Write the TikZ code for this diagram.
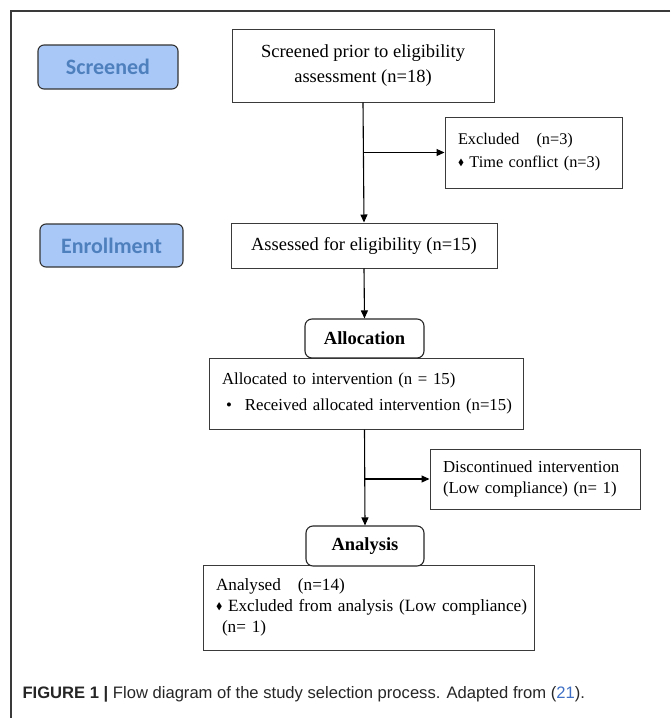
\documentclass[tikz,border=0pt]{standalone}
\usepackage{amssymb}
\usepackage{fontspec}
\setmainfont{Liberation Serif}
\setsansfont{Liberation Sans}
\newfontfamily\stagefont{Carlito}
\usepackage{tikz}
\usetikzlibrary{arrows.meta}
\usetikzlibrary{positioning}
\usetikzlibrary{calc}
\definecolor{stagefill}{HTML}{A9C8F7}
\definecolor{stagetext}{HTML}{4F80BE}
\definecolor{framegray}{HTML}{3A3A3A}
\definecolor{refblue}{HTML}{3E6FC4}
\tikzstyle{box}=[draw=framegray,fill=white,line width=1pt,inner sep=0pt,font=\fontsize{18.5}{21}\selectfont]
\tikzstyle{stage}=[draw=black!80,fill=stagefill,rounded corners=6pt,line width=1.1pt,minimum width=140pt,minimum height=44pt,text=stagetext,font=\stagefont\bfseries\fontsize{22}{24}\selectfont]
\newcommand{\dmd}{\raisebox{2.5pt}{\scalebox{0.55}{$\blacklozenge$}}}
\newcommand{\oneline}[1]{\mbox{#1}}

\begin{document}
\begin{tikzpicture}[x=1pt,y=-1pt,line width=1.1pt,>={Triangle[width=7pt,length=8pt]}]
\tikzstyle{phase}=[draw=black!85,fill=white,rounded corners=7pt,line width=1.1pt,inner sep=0pt,font=\fontsize{18.5}{21}\selectfont\bfseries]
\tikzstyle{leftbox}=[box,align=left,inner xsep=13pt,font=\fontsize{16.8}{21}\selectfont]
\useasboundingbox (0,0) rectangle (670,718);
\draw[framegray,line width=1.6pt] (670,11) -- (11,11) -- (11,718);

% stage labels
\node [stage] (scr) at (108,67) {Screened};
\node [stage,minimum width=143pt,minimum height=43pt] (enr) at (111.5,245.5) {Enrollment};

% main flow
\node [box,minimum width=262pt,minimum height=73pt,align=center] (scrbox) at (363,65.5)
  {Screened prior to eligibility\\[4pt]assessment (n=18)};
\node [leftbox,minimum width=177pt,minimum height=71pt,text width=151pt,font=\fontsize{16.3}{21}\selectfont] (excl) at (533.5,152.5)
  {\oneline{Excluded\hspace{17pt}(n=3)}\\[2pt]\oneline{\dmd\ Time conflict (n=3)}};
\node [box,minimum width=266pt,minimum height=45pt] (elig) at (364,245.5)
  {Assessed for eligibility (n=15)};

\node [leftbox,minimum width=314pt,minimum height=71pt,text width=288pt] (alloc) at (366,393.5)
  {\oneline{Allocated to intervention (n = 15)}\\[5pt]\oneline{\hspace{4pt}\textbullet\hspace{13pt}Received allocated intervention (n=15)}};
\node [phase,minimum width=119pt,minimum height=39pt] (allph) at (364.5,338.5) {Allocation};

\node [leftbox,minimum width=210pt,minimum height=60pt,text width=184pt] (disc) at (535,479)
  {\oneline{Discontinued intervention}\\\oneline{(Low compliance) (n= 1)}};

\node [leftbox,minimum width=331pt,minimum height=85pt,text width=305pt,font=\fontsize{17.2}{21}\selectfont] (anal) at (368.5,607.5)
  {\oneline{Analysed\hspace{17pt}(n=14)}\\\oneline{\dmd\ Excluded from analysis (Low compliance)}\\\oneline{\hspace{6pt}(n= 1)}};
\node [phase,minimum width=118pt,minimum height=40pt] (anph) at (365,546) {Analysis};

% connectors
\draw [->] (scrbox.south) -- (elig.north);
\coordinate (b1) at (scrbox.south |- excl.west);
\draw [->] (b1) -- (excl.west);
\draw [->] (elig.south) -- (allph.north);
\draw [->] (alloc.south -| allph.south) -- (anph.north);
\coordinate (b2) at (allph.south |- disc.west);
\draw [->] (b2) -- (disc.west);

% caption
\node [anchor=west,inner sep=0pt,text=black!85,font=\sffamily\fontsize{16.6}{19}\selectfont] (cap) at (22,694)
  {\textbf{FIGURE 1 |} Flow diagram of the study selection process. Adapted from ({\color{refblue}21}).};
\end{tikzpicture}
\end{document}
